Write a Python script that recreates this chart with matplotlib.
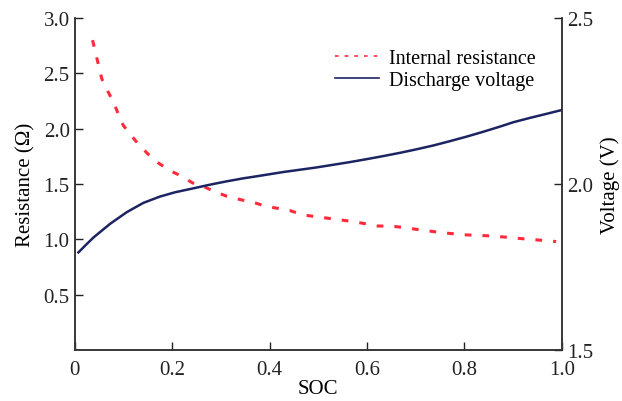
import matplotlib
matplotlib.use('Agg')
import matplotlib.pyplot as plt

# internal resistance (left axis, ohm)
soc_r = [0.037, 0.043, 0.056, 0.068, 0.080, 0.090, 0.100, 0.116, 0.133, 0.151,
         0.172, 0.196, 0.220, 0.242, 0.268, 0.288, 0.312, 0.339, 0.370, 0.391,
         0.442, 0.469, 0.521, 0.572, 0.623, 0.651, 0.702, 0.753, 0.804, 0.859,
         0.907, 0.962, 0.988]
resistance = [2.80, 2.69, 2.45, 2.34, 2.24, 2.13, 2.03, 1.94, 1.85, 1.77,
              1.69, 1.62, 1.57, 1.51, 1.47, 1.43, 1.39, 1.36, 1.33, 1.30,
              1.26, 1.22, 1.19, 1.16, 1.12, 1.12, 1.09, 1.06, 1.04, 1.03,
              1.01, 0.99, 0.98]

# discharge voltage (right axis, V)
soc_v = [0.008, 0.025, 0.039, 0.073, 0.107, 0.141, 0.175, 0.206, 0.244, 0.278,
         0.312, 0.346, 0.377, 0.428, 0.497, 0.565, 0.600, 0.633, 0.668, 0.700,
         0.736, 0.770, 0.805, 0.840, 0.873, 0.900, 0.934, 0.970, 1.0]
voltage = [1.794, 1.819, 1.839, 1.880, 1.915, 1.943, 1.962, 1.975, 1.987, 1.998,
           2.008, 2.017, 2.024, 2.036, 2.050, 2.066, 2.075, 2.084, 2.094, 2.104,
           2.116, 2.129, 2.143, 2.158, 2.173, 2.186, 2.199, 2.212, 2.223]

x_ticks = [0, 0.2, 0.4, 0.6, 0.8, 1.0]
x_labels = ['0', '0.2', '0.4', '0.6', '0.8', '1.0']
r_ticks = [0.5, 1.0, 1.5, 2.0, 2.5, 3.0]
v_ticks = [1.5, 2.0, 2.5]

plt.rcParams['font.family'] = ['Liberation Serif', 'DejaVu Serif']
plt.rcParams['mathtext.fontset'] = 'stix'

fig = plt.figure(figsize=(6.22, 4.02), dpi=100)
ax1 = fig.add_axes([0.1198, 0.1269, 0.7837, 0.8258])
ax2 = ax1.twinx()

red = '#ff2a3a'
navy = '#1c2462'

l1, = ax1.plot(soc_r, resistance, color=red, lw=2.2, ls=(0, (2.2, 3.6)))
l2, = ax2.plot(soc_v, voltage, color=navy, lw=1.8)

ax1.set_xlim(0, 1.0)
ax1.set_ylim(0, 3.0)
ax2.set_ylim(1.5, 2.5)

ax1.set_xticks(x_ticks)
ax1.set_xticklabels(x_labels)
ax1.set_yticks(r_ticks)
ax1.set_yticklabels(['%.1f' % t for t in r_ticks])
ax2.set_yticks(v_ticks)
ax2.set_yticklabels(['%.1f' % t for t in v_ticks])

for ax in (ax1, ax2):
    ax.spines['top'].set_visible(False)
    ax.tick_params(direction='in', length=6, width=1, labelsize=15, colors='#222222')
    for s in ax.spines.values():
        s.set_linewidth(1.1)
        s.set_color('#333333')
ax1.tick_params(axis='x', pad=7)

ax1.set_xlabel('SOC', fontsize=15, labelpad=0)
ax1.set_ylabel('Resistance (Ω)', fontsize=15, labelpad=6)
ax2.set_ylabel('Voltage (V)', fontsize=15, labelpad=5)

leg = ax1.legend([l1, l2], ['Internal resistance', 'Discharge voltage'],
                 loc='upper left', bbox_to_anchor=(335 / 622, 1 - 50 / 402),
                 bbox_transform=fig.transFigure, frameon=False, fontsize=14.5,
                 handlelength=2.2, handletextpad=0.5, labelspacing=0.15,
                 borderpad=0, borderaxespad=0)
leg.get_lines()[0].set_linewidth(1.2)
leg.get_lines()[1].set_linewidth(1.2)

fig.savefig('out.png', dpi=100)
